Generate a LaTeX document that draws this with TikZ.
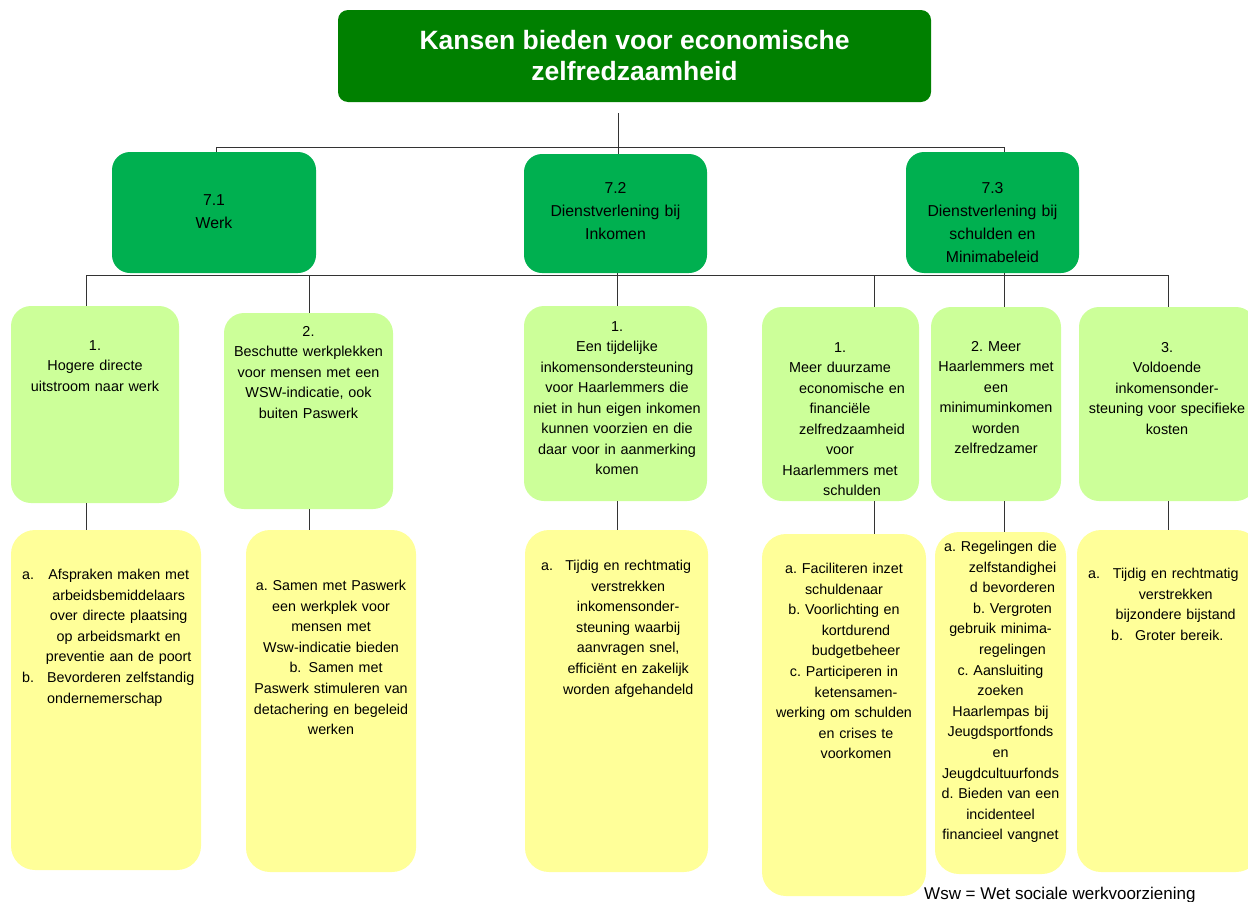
\documentclass[tikz,border=0pt]{standalone}
\usepackage{fontspec}
\setmainfont{Liberation Sans}
\usepackage{tikz}
\frenchspacing

\definecolor{titlegreen}{HTML}{008000}
\definecolor{themegreen}{HTML}{00B050}
\definecolor{goalgreen}{HTML}{CCFF99}
\definecolor{actyellow}{HTML}{FFFF99}

\tikzset{
  titlebox/.style={rectangle, fill=titlegreen, rounded corners=10pt, inner sep=0pt},
  themebox/.style={rectangle, fill=themegreen, rounded corners=18pt, inner sep=0pt},
  goalbox/.style={rectangle, fill=goalgreen, rounded corners=20pt, inner sep=0pt},
  actbox/.style={rectangle, fill=actyellow, rounded corners=24pt, inner sep=0pt},
  themetext/.style={anchor=north, align=center, inner sep=0pt, font=\fontsize{15.8pt}{23pt}\selectfont},
  goaltext/.style={anchor=north, align=center, inner sep=0pt, font=\fontsize{14.4pt}{20.5pt}\selectfont},
  acttext/.style={anchor=north, align=center, inner sep=0pt, font=\fontsize{14.3pt}{20.6pt}\selectfont},
  conn/.style={draw=black!80, line width=0.9pt}
}

\begin{document}
\begin{tikzpicture}[x=1pt, y=-1pt]
      \useasboundingbox (0,0) rectangle (1248,902);

      % Define boxes
      \node[titlebox, minimum width=593pt, minimum height=92pt, text=white, align=center,
            font=\fontsize{26.5pt}{31pt}\selectfont\bfseries] (top) at (634.5,56)
            {Kansen bieden voor economische\\zelfredzaamheid};

      \node[themebox, minimum width=204pt, minimum height=121pt] (d71) at (214,212.5) {};
      \node[themebox, minimum width=183pt, minimum height=119pt] (d72) at (615.5,213.5) {};
      \node[themebox, minimum width=173pt, minimum height=121pt] (d73) at (992.5,212.5) {};

      \node[goalbox, minimum width=168pt, minimum height=197pt] (h1) at (95,404.5) {};
      \node[goalbox, minimum width=169pt, minimum height=196pt] (h2) at (308.5,411) {};
      \node[goalbox, minimum width=183pt, minimum height=195pt] (h3) at (615.5,403.5) {};
      \node[goalbox, minimum width=157pt, minimum height=194pt] (h4) at (840.5,404) {};
      \node[goalbox, minimum width=130pt, minimum height=194pt] (h5) at (996,404) {};
      \node[goalbox, minimum width=177pt, minimum height=194pt] (h6) at (1167.5,404) {};

      \node[actbox, minimum width=190pt, minimum height=340pt] (y1) at (106,700) {};
      \node[actbox, minimum width=170pt, minimum height=342pt] (y2) at (331,701) {};
      \node[actbox, minimum width=183pt, minimum height=342pt] (y3) at (616.5,701) {};
      \node[actbox, minimum width=164pt, minimum height=362pt] (y4) at (844,715) {};
      \node[actbox, minimum width=131pt, minimum height=342pt] (y5) at (1000.5,703) {};
      \node[actbox, minimum width=183pt, minimum height=342pt] (y6) at (1168.5,701) {};

      % Texts
      \node[themetext, text width=200pt] (d71t) at (214,194.5) {7.1\\Werk};
      \node[themetext, text width=180pt] (d72t) at (615.5,182.5) {7.2\\Dienstverlening bij\\Inkomen};
      \node[themetext, text width=170pt] (d73t) at (992.5,182.5) {7.3\\Dienstverlening bij\\schulden en\\Minimabeleid};

      \node[goaltext, text width=164pt] (h1t) at (95,340) {1.\\Hogere directe\\uitstroom naar werk};
      \node[goaltext, text width=165pt] (h2t) at (308.5,326) {2.\\Beschutte werkplekken\\voor mensen met een\\WSW-indicatie, ook\\buiten Paswerk};
      \node[goaltext, text width=180pt] (h3t) at (617,321) {1.\\Een tijdelijke\\inkomensondersteuning\\voor Haarlemmers die\\niet in hun eigen inkomen\\kunnen voorzien en die\\daar voor in aanmerking\\komen};
      \node[goaltext, text width=155pt] (h4t) at (840,342) {1.\\Meer duurzame\\\hspace*{24pt}economische en\\financiële\\\hspace*{24pt}zelfredzaamheid\\voor\\Haarlemmers met\\\hspace*{24pt}schulden};
      \node[goaltext, text width=128pt] (h5t) at (996,341) {2. Meer\\Haarlemmers met\\een\\minimuminkomen\\worden\\zelfredzamer};
      \node[goaltext, text width=172pt] (h6t) at (1167,342) {3.\\Voldoende\\inkomensonder-\\steuning voor specifieke\\kosten};

      \node[acttext, anchor=north west, align=left, text width=172pt] (y1t) at (22,569)
        {\makebox[25pt][l]{a.}\makebox[143pt]{Afspraken maken met}\\
         \makebox[25pt][l]{}\makebox[143pt]{arbeidsbemiddelaars}\\
         \makebox[25pt][l]{}\makebox[143pt]{over directe plaatsing}\\
         \makebox[25pt][l]{}\makebox[143pt]{op arbeidsmarkt en}\\
         \makebox[25pt][l]{}\makebox[143pt]{preventie aan de poort}\\
         \makebox[25pt][l]{b.}\makebox[143pt][l]{Bevorderen zelfstandig}\\
         \makebox[25pt][l]{}\makebox[143pt][l]{ondernemerschap}};
      \node[acttext, text width=168pt] (y2t) at (331,580) {a. Samen met Paswerk\\een werkplek voor\\mensen met\\Wsw-indicatie bieden\\\hspace*{10pt}b.\enspace Samen met\\Paswerk stimuleren van\\detachering en begeleid\\werken};
      \node[acttext, anchor=north west, align=left, text width=160pt] (y3t) at (541,560)
        {\makebox[19pt][l]{a.}\makebox[136pt]{Tijdig en rechtmatig}\\
         \makebox[19pt][l]{}\makebox[136pt]{verstrekken}\\
         \makebox[19pt][l]{}\makebox[136pt]{inkomensonder-}\\
         \makebox[19pt][l]{}\makebox[136pt]{steuning waarbij}\\
         \makebox[19pt][l]{}\makebox[136pt]{aanvragen snel,}\\
         \makebox[19pt][l]{}\makebox[136pt]{efficiënt en zakelijk}\\
         \makebox[19pt][l]{}\makebox[136pt]{worden afgehandeld}};
      \node[acttext, text width=162pt] (y4t) at (844,563) {a. Faciliteren inzet\\schuldenaar\\b. Voorlichting en\\\hspace*{24pt}kortdurend\\\hspace*{24pt}budgetbeheer\\c. Participeren in\\\hspace*{24pt}ketensamen-\\werking om schulden\\\hspace*{24pt}en crises te\\\hspace*{24pt}voorkomen};
      \node[acttext, text width=131pt] (y5t) at (1000.5,541) {a. Regelingen die\\\hspace*{24pt}zelfstandighei\\\hspace*{24pt}d bevorderen\\\hspace*{24pt}b. Vergroten\\gebruik minima-\\\hspace*{24pt}regelingen\\c. Aansluiting\\zoeken\\Haarlempas bij\\Jeugdsportfonds\\en\\Jeugdcultuurfonds\\d. Bieden van een\\incidenteel\\financieel vangnet};
      \node[acttext, anchor=north west, align=left, text width=156pt] (y6t) at (1088,568)
        {\makebox[23pt][l]{a.}\makebox[129pt]{Tijdig en rechtmatig}\\
         \makebox[23pt][l]{}\makebox[129pt]{verstrekken}\\
         \makebox[23pt][l]{}\makebox[129pt]{bijzondere bijstand}\\
         \makebox[23pt][l]{}\makebox[24pt][l]{b.}Groter bereik.};

      \node[anchor=base west, inner sep=0pt, font=\fontsize{17pt}{20pt}\selectfont] (note) at (924,899) {Wsw = Wet sociale werkvoorziening};

      % Draw connectors
      \coordinate (hubl) at (216,147);
      \coordinate (hubm) at (618,147);
      \coordinate (hubr) at (1004,147);
      \draw[conn, shorten <=11pt] (hubm |- top.south) -- (hubm |- d72.north);
      \draw[conn] (hubl |- d71.north) -- (hubl) -- (hubr) -- (hubr |- d73.north);

      \foreach \i/\x in {1/86,2/309,3/617,4/874,5/1004,6/1168}{
        \coordinate (t\i) at (\x,275);
        \draw[conn] (t\i) -- (t\i |- h\i.north);
        \draw[conn] (t\i |- h\i.south) -- (t\i |- y\i.north);
      }
      \draw[conn] (t1) -- (t6);
      \draw[conn] (t3 |- d72.south) -- (t3);
      \draw[conn] (t5 |- d73.south) -- (t5);
\end{tikzpicture}
\end{document}
